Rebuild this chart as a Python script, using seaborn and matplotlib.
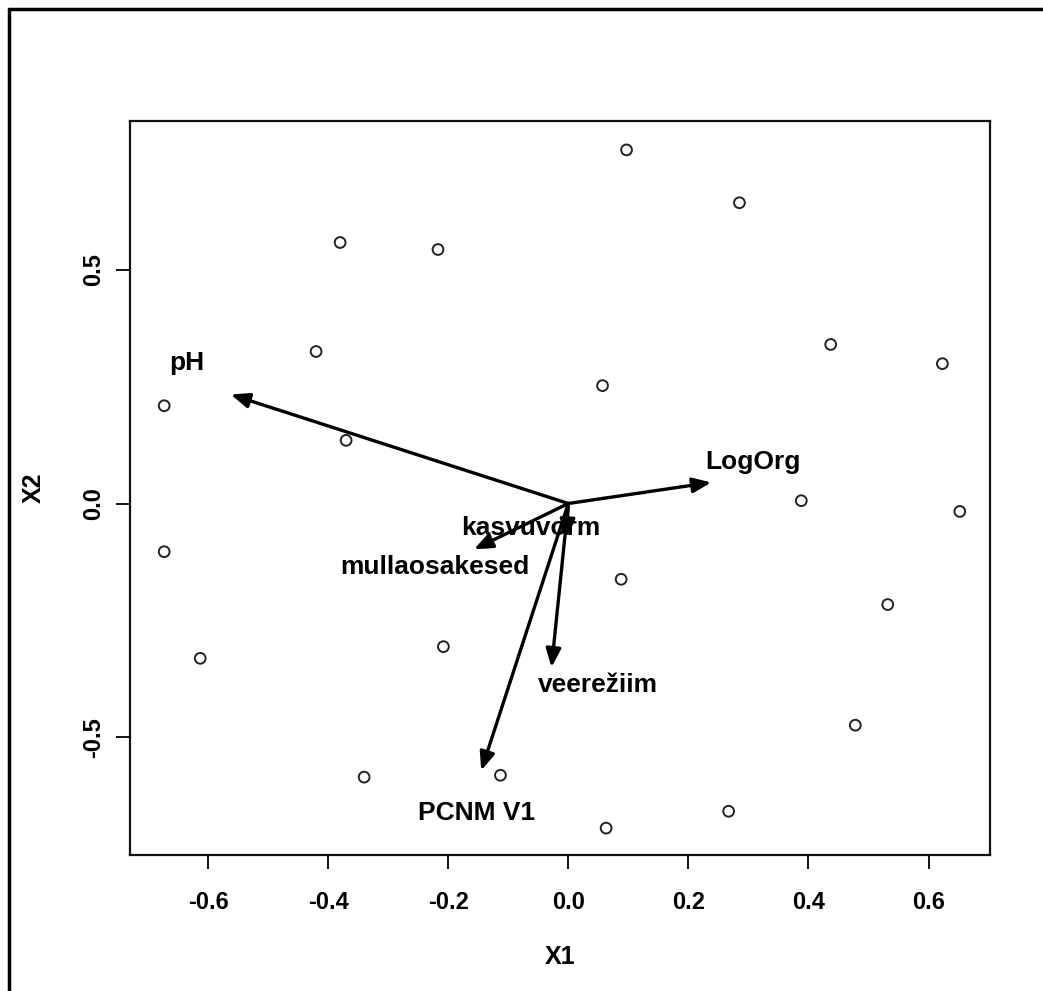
import pandas as pd
import matplotlib.pyplot as plt
import seaborn as sns
from matplotlib.lines import Line2D

# --- site scores (points) ---
x1 = [0.097, 0.285, -0.380, -0.217, -0.420, 0.437, 0.623, 0.057, -0.673, -0.370, 0.388,
      0.652, -0.673, 0.088, 0.532, -0.613, -0.208, 0.478, -0.340, -0.113, 0.267, 0.063]
x2 = [0.756, 0.643, 0.558, 0.543, 0.325, 0.340, 0.299, 0.252, 0.209, 0.135, 0.006,
      -0.017, -0.103, -0.162, -0.216, -0.331, -0.306, -0.474, -0.585, -0.581, -0.658, -0.694]

# --- envfit arrows ---
arrow_x = [-0.562, 0.238, -0.157, -0.003, -0.028, -0.145]
arrow_y = [0.233, 0.045, -0.098, -0.073, -0.350, -0.571]

# --- arrow labels ---
lab_text = ['pH', 'LogOrg', 'kasvuvorm', 'mullaosakesed', 'veerežiim', 'PCNM V1']
lab_x = [-0.635, 0.308, -0.062, -0.222, 0.050, -0.152]
lab_y = [0.301, 0.088, -0.053, -0.135, -0.387, -0.662]

x_ticks = [-0.6, -0.4, -0.2, 0.0, 0.2, 0.4, 0.6]
y_ticks = [-0.5, 0.0, 0.5]

df = pd.DataFrame({'X1': x1, 'X2': x2})

sns.set_style("white")
plt.rcParams['font.family'] = ['Liberation Sans', 'DejaVu Sans']
plt.rcParams['font.weight'] = 'bold'
plt.rcParams['text.color'] = 'black'
plt.rcParams['axes.labelcolor'] = 'black'
plt.rcParams['xtick.color'] = 'black'
plt.rcParams['ytick.color'] = 'black'

fig = plt.figure(figsize=(10.43, 9.91), dpi=100)
ax = fig.add_axes([0.1246, 0.137, 0.825, 0.741])

sns.scatterplot(data=df, x='X1', y='X2', ax=ax, marker='o', s=60,
                facecolor='none', edgecolor='#222222', linewidth=1.4, legend=False)

for ex, ey in zip(arrow_x, arrow_y):
    ax.annotate('', xy=(ex, ey), xytext=(0, 0),
                arrowprops=dict(arrowstyle='-|>,head_length=1.1,head_width=0.45',
                                color='black', lw=2.4, shrinkA=0, shrinkB=0))

for t, lx, ly in zip(lab_text, lab_x, lab_y):
    ax.text(lx, ly, t, ha='center', va='center', fontsize=19, fontweight='bold',
            color='black')

ax.set_xlim(-0.73, 0.703)
ax.set_ylim(-0.752, 0.818)
ax.set_xticks(x_ticks)
ax.set_xticklabels([f'{v:.1f}' for v in x_ticks])
ax.set_yticks(y_ticks)
ax.set_yticklabels([f'{v:.1f}' for v in y_ticks], rotation=90, va='center')
ax.tick_params(direction='out', length=10, width=1.3, labelsize=17,
               bottom=True, left=True)
ax.tick_params(axis='x', pad=16)
ax.tick_params(axis='y', pad=8)
for lbl in ax.get_xticklabels() + ax.get_yticklabels():
    lbl.set_fontweight('bold')
for sp in ax.spines.values():
    sp.set_color('#111111')
    sp.set_linewidth(1.6)

ax.set_xlabel('X1', fontsize=18, fontweight='bold', labelpad=22)
ax.set_ylabel('X2', fontsize=18, fontweight='bold', labelpad=26)

# outer frame (top and left edges only)
fig.add_artist(Line2D([0.009, 1.0], [0.991, 0.991], color='black', lw=2.5,
                      transform=fig.transFigure))
fig.add_artist(Line2D([0.009, 0.009], [0.0, 0.991], color='black', lw=2.5,
                      transform=fig.transFigure))

plt.savefig('out.png', dpi=100)
plt.close()
